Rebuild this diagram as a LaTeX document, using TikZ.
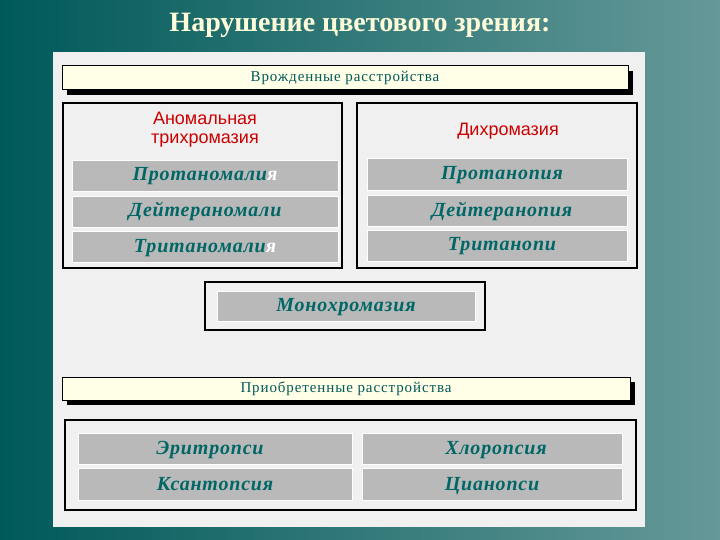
\documentclass[tikz,border=0pt]{standalone}
\usepackage{fontspec}
\setmainfont{Liberation Serif}
\newfontfamily\sansf{Liberation Sans}
\newfontfamily\spaced[LetterSpace=6]{Liberation Serif}
\newfontfamily\itemf[LetterSpace=4]{Liberation Serif}
\begin{document}
\begin{tikzpicture}[x=1pt,y=-1pt,
  item/.style={fill=gray!55,draw=white,line width=0.8pt},
  lab/.style={font=\itemf\bfseries\itshape\fontsize{20}{20}\selectfont,text=teal!80!black,text height=14pt,text depth=4pt,inner sep=0pt,yshift=-1pt},
  frame/.style={draw=black,line width=1.5pt},
  bar/.style={fill=yellow!10,draw=black,line width=1pt},
  bartext/.style={text=teal!70!black,font=\spaced\fontsize{15}{15}\selectfont},
  head/.style={font=\sansf\fontsize{18}{19}\selectfont,text=red!80!black,align=center}]
\shade[left color=teal!70!black,right color=teal!50!gray!80] (0,0) rectangle (720,540);
\node[font=\bfseries\fontsize{28}{28}\selectfont,text=yellow!15] (t) at (360,25) {Нарушение цветового зрения:};
\fill[gray!12] (53,52) rectangle (645,527);
% top bar
\fill[black] (67,71) rectangle (633,95);
\draw[bar] (62,66) rectangle (628,90);
\node[bartext] (b1) at (345,78) {Врожденные расстройства};
\draw[frame] (63,103) rectangle (342,268);
\draw[frame] (357,103) rectangle (637,268);
\node[head] (h1) at (205,130) {Аномальная\\трихромазия};
\node[head] (h2) at (508,131) {Дихромазия};
\draw[item] (72,160) rectangle (338,191); \node[lab] (l1) at (205,175) {Протаномали\textcolor{white}{я}};
\draw[item] (72,196) rectangle (338,227); \node[lab] (l2) at (205,211) {Дейтераномали};
\draw[item] (72,231) rectangle (338,262); \node[lab] (l3) at (205,246) {Тританомали\textcolor{white}{я}};
\draw[item] (367,158) rectangle (627,190); \node[lab] (r1) at (502,174) {Протанопия};
\draw[item] (367,195) rectangle (627,226); \node[lab] (r2) at (502,210) {Дейтеранопия};
\draw[item] (367,230) rectangle (627,261); \node[lab] (r3) at (502,245) {Тританопи};
% mono
\draw[frame] (205,282) rectangle (485,330);
\draw[item] (217,291) rectangle (475,321); \node[lab] (m) at (346,305) {Монохромазия};
% bottom bar
\fill[black] (67,382) rectangle (635,405);
\draw[bar] (62,377) rectangle (630,400);
\node[bartext] (b2) at (346,389) {Приобретенные расстройства};
\draw[frame] (65,420) rectangle (636,510);
\draw[item] (78,433) rectangle (352,464); \node[lab] (e) at (210,448) {Эритропси};
\draw[item] (78,468) rectangle (352,500); \node[lab] (k) at (215,484) {Ксантопсия};
\draw[item] (362,433) rectangle (622,464); \node[lab] (c) at (496,448) {Хлоропсия};
\draw[item] (362,468) rectangle (622,500); \node[lab] (ci) at (492,484) {Цианопси};
\end{tikzpicture}
\end{document}
